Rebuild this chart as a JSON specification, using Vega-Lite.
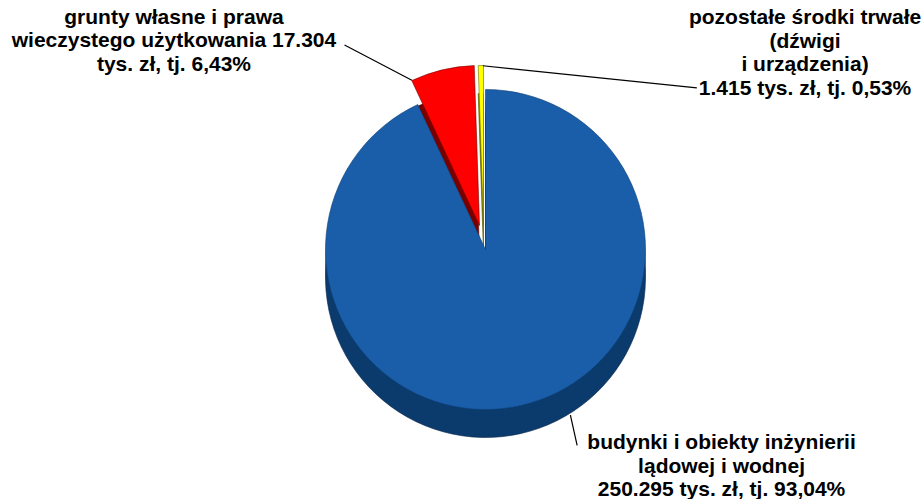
{
  "$schema": "https://vega.github.io/schema/vega-lite/v6.json",
  "width": 875,
  "height": 499,
  "autosize": "none",
  "padding": {"left": 48, "right": 0, "top": 0, "bottom": 0},
  "background": "white",
  "config": {"view": {"stroke": null}},
  "data": {
    "values": [
      {"name": "budynki", "order": 1, "value": 250295, "label": "budynki i obiekty  inżynierii\nlądowej i wodnej\n250.295 tys. zł, tj. 93,04%"},
      {"name": "grunty", "order": 2, "value": 17304, "label": "grunty własne i prawa\nwieczystego użytkowania 17.304\ntys. zł, tj. 6,43%"},
      {"name": "pozostale", "order": 3, "value": 1415, "label": "pozostałe środki trwałe\n(dźwigi\ni urządzenia)\n1.415 tys. zł, tj. 0,53%"}
    ]
  },
  "transform": [
    {"stack": "value", "groupby": [], "sort": [{"field": "order"}], "as": ["v0", "v1"]},
    {"calculate": "(datum.v0 + datum.v1) / 2", "as": "mid"}
  ],
  "layer": [
    {
      "transform": [{"filter": "datum.name == 'budynki'"}],
      "mark": {"type": "arc", "radius": 160, "yOffset": 10, "fill": "#0B3A6C"},
      "encoding": {
        "theta": {"field": "v0", "type": "quantitative", "scale": {"domain": [0, 269014]}},
        "theta2": {"field": "v1"}
      }
    },
    {
      "transform": [{"filter": "datum.name == 'budynki'"}],
      "mark": {"type": "arc", "radius": 160, "yOffset": 20, "fill": "#0B3A6C"},
      "encoding": {
        "theta": {"field": "v0", "type": "quantitative", "scale": {"domain": [0, 269014]}},
        "theta2": {"field": "v1"}
      }
    },
    {
      "transform": [{"filter": "datum.name == 'budynki'"}],
      "mark": {"type": "arc", "radius": 160, "yOffset": 28, "fill": "#0B3A6C", "stroke": "#08284B", "strokeWidth": 0.6},
      "encoding": {
        "theta": {"field": "v0", "type": "quantitative", "scale": {"domain": [0, 269014]}},
        "theta2": {"field": "v1"}
      }
    },
    {
      "transform": [{"filter": "datum.name == 'grunty'"}],
      "mark": {"type": "arc", "radius": 160, "xOffset": -6, "yOffset": 4, "fill": "#7A0000", "stroke": "#500000", "strokeWidth": 0.6},
      "encoding": {
        "theta": {"field": "v0", "type": "quantitative", "scale": {"domain": [0, 269014]}},
        "theta2": {"field": "v1"}
      }
    },
    {
      "transform": [{"filter": "datum.name == 'pozostale'"}],
      "mark": {"type": "arc", "radius": 160, "xOffset": -2, "yOffset": 4, "fill": "#7A7A00", "stroke": "#505000", "strokeWidth": 0.6},
      "encoding": {
        "theta": {"field": "v0", "type": "quantitative", "scale": {"domain": [0, 269014]}},
        "theta2": {"field": "v1"}
      }
    },
    {
      "transform": [{"filter": "datum.name == 'budynki'"}],
      "mark": {"type": "arc", "radius": 160, "fill": "#1A5EAA", "stroke": "#0E3F75", "strokeWidth": 0.6},
      "encoding": {
        "theta": {"field": "v0", "type": "quantitative", "scale": {"domain": [0, 269014]}},
        "theta2": {"field": "v1"}
      }
    },
    {
      "transform": [{"filter": "datum.name == 'grunty'"}],
      "mark": {"type": "arc", "radius": 160, "xOffset": -6, "yOffset": -24, "fill": "#FF0000", "stroke": "#7A0000", "strokeWidth": 0.6},
      "encoding": {
        "theta": {"field": "v0", "type": "quantitative", "scale": {"domain": [0, 269014]}},
        "theta2": {"field": "v1"}
      }
    },
    {
      "transform": [{"filter": "datum.name == 'pozostale'"}],
      "mark": {"type": "arc", "radius": 160, "xOffset": -2, "yOffset": -24, "fill": "#FFFF00", "stroke": "#6B6B00", "strokeWidth": 0.6},
      "encoding": {
        "theta": {"field": "v0", "type": "quantitative", "scale": {"domain": [0, 269014]}},
        "theta2": {"field": "v1"}
      }
    },
    {
      "transform": [{"filter": "datum.name == 'budynki'"}],
      "mark": {"type": "arc", "radius": 215, "radius2": 184, "xOffset": 45, "yOffset": -14, "fill": null, "stroke": "#000000", "strokeWidth": 1.2},
      "encoding": {
        "theta": {"field": "mid", "type": "quantitative", "scale": {"domain": [0, 269014]}},
        "theta2": {"field": "mid"}
      }
    },
    {
      "transform": [{"filter": "datum.name == 'grunty'"}],
      "mark": {"type": "arc", "radius": 176, "radius2": 100, "thetaOffset": -0.854, "theta2Offset": -0.854, "xOffset": 15, "yOffset": -123, "fill": null, "stroke": "#000000", "strokeWidth": 1.2},
      "encoding": {
        "theta": {"field": "mid", "type": "quantitative", "scale": {"domain": [0, 269014]}},
        "theta2": {"field": "mid"}
      }
    },
    {
      "transform": [{"filter": "datum.name == 'pozostale'"}],
      "mark": {"type": "arc", "radius": 315, "radius2": 100, "thetaOffset": 1.69, "theta2Offset": 1.69, "xOffset": -102, "yOffset": -194, "fill": null, "stroke": "#000000", "strokeWidth": 1.2},
      "encoding": {
        "theta": {"field": "mid", "type": "quantitative", "scale": {"domain": [0, 269014]}},
        "theta2": {"field": "mid"}
      }
    },
    {
      "transform": [{"filter": "datum.name == 'budynki'"}],
      "mark": {"type": "text", "radius": 180, "dx": 197, "dy": 18, "align": "center", "baseline": "middle", "font": "Liberation Sans", "fontWeight": "bold", "fontSize": 21, "lineHeight": 23.5, "lineBreak": "\n", "color": "#000000"},
      "encoding": {
        "theta": {"field": "mid", "type": "quantitative", "scale": {"domain": [0, 269014]}},
        "text": {"field": "label"}
      }
    },
    {
      "transform": [{"filter": "datum.name == 'grunty'"}],
      "mark": {"type": "text", "radius": 180, "dx": -269.6, "dy": -56.5, "align": "center", "baseline": "middle", "font": "Liberation Sans", "fontWeight": "bold", "fontSize": 21, "lineHeight": 23.5, "lineBreak": "\n", "color": "#000000"},
      "encoding": {
        "theta": {"field": "mid", "type": "quantitative", "scale": {"domain": [0, 269014]}},
        "text": {"field": "label"}
      }
    },
    {
      "transform": [{"filter": "datum.name == 'pozostale'"}],
      "mark": {"type": "text", "radius": 180, "dx": 322.5, "dy": -51.5, "align": "center", "baseline": "middle", "font": "Liberation Sans", "fontWeight": "bold", "fontSize": 21, "lineHeight": 23.5, "lineBreak": "\n", "color": "#000000"},
      "encoding": {
        "theta": {"field": "mid", "type": "quantitative", "scale": {"domain": [0, 269014]}},
        "text": {"field": "label"}
      }
    }
  ]
}
